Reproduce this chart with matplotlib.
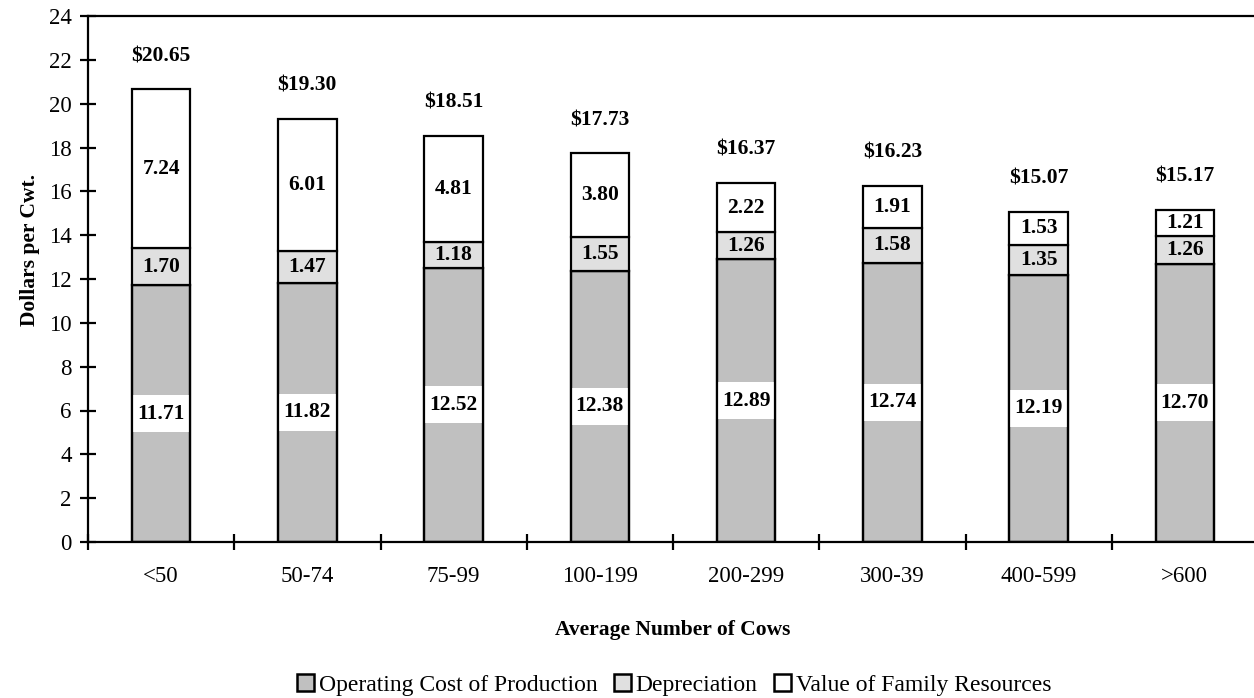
import matplotlib
matplotlib.use("Agg")
import matplotlib.pyplot as plt
import numpy as np
from matplotlib.patches import Patch

categories = ['<50', '50-74', '75-99', '100-199', '200-299', '300-39', '400-599', '>600']
operating = [11.71, 11.82, 12.52, 12.38, 12.89, 12.74, 12.19, 12.70]
depreciation = [1.70, 1.47, 1.18, 1.55, 1.26, 1.58, 1.35, 1.26]
family = [7.24, 6.01, 4.81, 3.80, 2.22, 1.91, 1.53, 1.21]
totals = [20.65, 19.30, 18.51, 17.73, 16.37, 16.23, 15.07, 15.17]
series_names = ['Operating Cost of Production', 'Depreciation', 'Value of Family Resources']

plt.rcParams['font.family'] = ['Liberation Serif', 'DejaVu Serif']

W, H = 1254, 698
fig = plt.figure(figsize=(W / 100, H / 100), dpi=100)
ax = fig.add_axes([88 / W, 1 - 542 / H, (1258 - 88) / W, (542 - 16) / H])

op = np.array(operating)
dep = np.array(depreciation)
fam = np.array(family)
x = np.arange(len(categories)) + 0.5
bw = 0.40
lw = 1.6
c_op, c_dep, c_fam = '#c0c0c0', '#e0e0e0', '#ffffff'

ax.bar(x, op, bw, color=c_op, edgecolor='black', linewidth=lw, zorder=2)
# white label band inside the operating segment
band = 1.7
ax.bar(x, band, bw, bottom=op / 2 - band / 2, color='white', edgecolor='none', zorder=3)
ax.bar(x, op, bw, fill=False, edgecolor='black', linewidth=lw, zorder=4)
ax.bar(x, dep, bw, bottom=op, color=c_dep, edgecolor='black', linewidth=lw, zorder=4)
ax.bar(x, fam, bw, bottom=op + dep, color=c_fam, edgecolor='black', linewidth=lw, zorder=4)

fs_lbl = 15.5
for i in range(len(categories)):
    ax.text(x[i], op[i] / 2, f'{op[i]:.2f}', ha='center', va='center',
            fontsize=fs_lbl, fontweight='bold', zorder=5)
    ax.text(x[i], op[i] + dep[i] / 2, f'{dep[i]:.2f}', ha='center', va='center',
            fontsize=fs_lbl, fontweight='bold', zorder=5)
    ax.text(x[i], op[i] + dep[i] + fam[i] / 2, f'{fam[i]:.2f}', ha='center', va='center',
            fontsize=fs_lbl, fontweight='bold', zorder=5)
    ax.annotate(f'${totals[i]:.2f}', (x[i], totals[i]), xytext=(0, 24),
                textcoords='offset points', ha='center', va='center',
                fontsize=fs_lbl, fontweight='bold', zorder=5)

ax.set_xlim(0, len(categories))
ax.set_ylim(0, 24)
ax.set_yticks(np.arange(0, 25, 2))
ax.set_xticks(np.arange(0, len(categories) + 1))
ax.set_xticklabels([])
ax.set_xticks(x, minor=True)
ax.set_xticklabels(categories, minor=True)
ax.tick_params(axis='x', which='minor', length=0, labelsize=16.5, pad=17)
ax.tick_params(axis='x', which='major', direction='inout', length=11, width=lw)
ax.tick_params(axis='y', direction='inout', length=11.5, width=lw, labelsize=16.5, pad=6)

for s in ['left', 'bottom', 'top']:
    ax.spines[s].set_linewidth(lw)
ax.spines['right'].set_visible(False)

fig.text(30 / W, 1 - 250 / H, 'Dollars per Cwt.', rotation=90, ha='center', va='center',
         fontsize=15.5, fontweight='bold')
fig.text(673 / W, 1 - 630 / H, 'Average Number of Cows', ha='center', va='center',
         fontsize=15.5, fontweight='bold')

handles = [Patch(facecolor=c, edgecolor='black', linewidth=1.8) for c in (c_op, c_dep, c_fam)]
fig.legend(handles, series_names, loc='center', bbox_to_anchor=(674 / W, 1 - 685 / H),
           ncol=3, frameon=False, fontsize=17, handlelength=0.72, handleheight=0.72,
           handletextpad=0.2, columnspacing=0.7, borderaxespad=0, borderpad=0)

fig.savefig('out.png', dpi=100)
